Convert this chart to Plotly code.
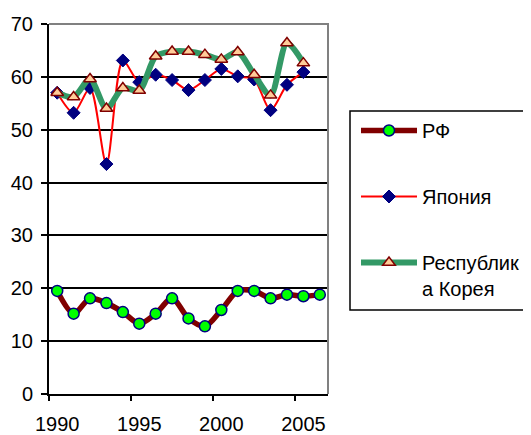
import plotly.graph_objects as go

years = list(range(1990, 2007))
rf = [19.5, 15.2, 18.1, 17.2, 15.5, 13.3, 15.2, 18.1, 14.3, 12.8, 15.9, 19.5, 19.5, 18.1, 18.8, 18.5, 18.8]
japan = [57.0, 53.2, 57.9, 43.5, 63.1, 59.0, 60.4, 59.4, 57.5, 59.4, 61.5, 60.1, 59.5, 53.7, 58.5, 60.9]
korea = [57.0, 56.2, 59.6, 54.0, 57.9, 57.4, 63.9, 64.8, 64.8, 64.2, 63.3, 64.7, 60.4, 56.5, 66.4, 62.6]
names = ["РФ", "Япония", "Республик<br>а Корея"]
x_labels = ["1990", "1995", "2000", "2005"]
x_label_pos = [1990, 1995, 2000, 2005]
x_tick_pos = [1989.5, 1994.5, 1999.5, 2004.5]

FONT = "Liberation Sans, Arial, sans-serif"

fig = go.Figure()
fig.add_trace(go.Scatter(
    x=years, y=rf, name=names[0], legendgroup="a",
    mode="lines+markers",
    line=dict(color="#800000", width=5.5, shape="spline", smoothing=0.8),
    marker=dict(symbol="circle", size=11, color="#00FF00", line=dict(color="#000080", width=1.5)),
))
fig.add_trace(go.Scatter(
    x=years[:len(japan)], y=japan, name=names[1], legendgroup="b",
    mode="lines+markers",
    line=dict(color="#FF0000", width=2, shape="spline", smoothing=0.8),
    marker=dict(symbol="diamond", size=10, color="#000080", line=dict(color="#000080", width=1)),
))
fig.add_trace(go.Scatter(
    x=years[:len(korea)], y=korea, name=names[2], legendgroup="c",
    mode="lines+markers",
    line=dict(color="#339966", width=6, shape="spline", smoothing=0.8),
    marker=dict(symbol="triangle-up", size=11, color="#FFCC99", line=dict(color="#800000", width=1.5)),
))

# page is shown with an 8px body margin; coordinates below are figure pixels
W, H = 560, 427
L, R, T, B = 41, 240, 16, 41
PW = W - L - R
PH = H - T - B

def px2x(px):
    return (px - L) / PW

def px2y(py):
    return 1 - (py - T) / PH

fig.update_layout(
    width=W, height=H,
    margin=dict(l=L, r=R, t=T, b=B, autoexpand=False),
    paper_bgcolor="white", plot_bgcolor="white",
    font=dict(family=FONT, size=20, color="black"),
    showlegend=True,
    legend=dict(
        x=px2x(348), y=px2y(103), xanchor="left", yanchor="top",
        bgcolor="rgba(0,0,0,0)", borderwidth=0,
        tracegroupgap=37, valign="top", itemwidth=56,
        font=dict(family=FONT, size=20, color="black"),
    ),
    xaxis=dict(
        range=[1989.5, 2006.5], tickvals=x_label_pos, ticktext=x_labels,
        ticks="", showgrid=False, zeroline=False, automargin=False,
        showline=True, linecolor="black", linewidth=2,
        tickfont=dict(family=FONT, size=20), ticklabelstandoff=11,
    ),
    xaxis2=dict(
        range=[1989.5, 2006.5], overlaying="x", anchor="y", side="bottom",
        tickvals=x_tick_pos, ticks="outside", ticklen=6, tickwidth=2, tickcolor="black",
        showticklabels=False, showgrid=False, zeroline=False, showline=False, automargin=False,
    ),
    yaxis=dict(
        range=[0, 70], dtick=10, ticks="outside", ticklen=6, tickwidth=2, tickcolor="black",
        showgrid=True, gridcolor="black", gridwidth=2, zeroline=False, automargin=False,
        showline=True, linecolor="black", linewidth=2,
        tickfont=dict(family=FONT, size=20), ticklabelstandoff=4,
    ),
    shapes=[
        dict(type="path", xref="paper", yref="paper", path="M 0,1 L 1,1 L 1,0",
             line=dict(color="#808080", width=2), layer="above"),
        dict(type="rect", xref="paper", yref="paper",
             x0=px2x(342), x1=px2x(522), y0=px2y(302), y1=px2y(103),
             line=dict(color="black", width=1.5), fillcolor="rgba(0,0,0,0)"),
    ],
)
# invisible trace to activate xaxis2
fig.add_trace(go.Scatter(x=[1989.5], y=[None], xaxis="x2", showlegend=False, hoverinfo="skip"))

fig.write_html("out.html")
